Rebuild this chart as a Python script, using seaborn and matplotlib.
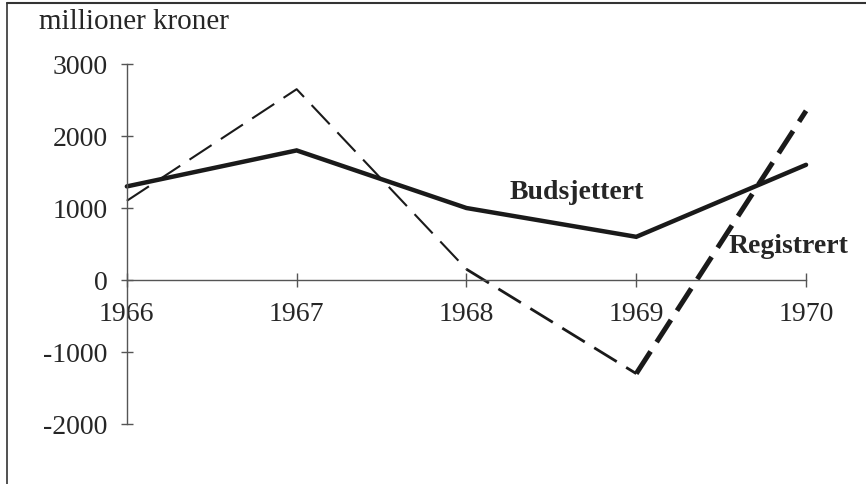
import pandas as pd
import numpy as np
import matplotlib.pyplot as plt
import seaborn as sns
from matplotlib.lines import Line2D

# data (millioner kroner)
years = [1966, 1967, 1968, 1969, 1970]
budsjettert = [1300, 1800, 1000, 600, 1600]
registrert = [1100, 2650, 150, -1300, 2350]
yticks = [-2000, -1000, 0, 1000, 2000, 3000]

df_b = pd.DataFrame({"år": years, "verdi": budsjettert})
df_r = pd.DataFrame({"år": years, "verdi": registrert})

sns.set_style("white")
plt.rcParams['font.family'] = ['Liberation Serif', 'DejaVu Serif']
plt.rcParams['lines.scale_dashes'] = False

fig = plt.figure(figsize=(8.66, 4.84), dpi=100)
ax = fig.add_axes([0, 0, 1, 1])
ax.patch.set_alpha(0)

# budsjettert: heltrukken tykk linje
sns.lineplot(data=df_b, x="år", y="verdi", ax=ax, color="#1a1a1a",
             linewidth=3.2, solid_joinstyle="miter")

# registrert: stiplet linje, blir tykkere mot slutten (som i originalen)
segmenter = [(0, 3, 1.5), (2, 4, 2.0), (3, 5, 3.6)]
for start, stopp, lw in segmenter:
    sns.lineplot(data=df_r.iloc[start:stopp], x="år", y="verdi", ax=ax,
                 color="#1a1a1a", linewidth=lw,
                 linestyle=(0, (19, 8)))

ax.set_xlim(1965.253, 1970.353)
ax.set_ylim(-2833, 3889)
ax.set_xlabel("")
ax.set_ylabel("")

for side in ["top", "right"]:
    ax.spines[side].set_visible(False)
ax.spines["left"].set_position(("data", 1966))
ax.spines["left"].set_bounds(-2000, 3000)
ax.spines["bottom"].set_position(("data", 0))
ax.spines["bottom"].set_bounds(1966, 1970)
for side in ["left", "bottom"]:
    ax.spines[side].set_color("#555555")
    ax.spines[side].set_linewidth(1.0)

ax.set_xticks(years)
ax.set_xticklabels([str(y) for y in years])
ax.set_yticks(yticks)
ax.set_yticklabels([str(v) for v in yticks])
ax.tick_params(axis="x", bottom=True, direction="inout", length=10, width=1,
               color="#555555", labelsize=20, pad=11)
ax.tick_params(axis="y", left=True, direction="inout", length=8, width=1,
               color="#555555", labelsize=20, pad=10)
ax.grid(False)

ax.text(0.045, 0.955, "millioner kroner", transform=ax.transAxes,
        fontsize=21, va="center", ha="left")
ax.text(1968.253, 1222, "Budsjettert", fontsize=20, fontweight="bold",
        va="center", ha="left")
ax.text(1969.541, 472, "Registrert", fontsize=20, fontweight="bold",
        va="center", ha="left")

# ramme fra skannet side
fig.add_artist(Line2D([0.008, 0.008], [0, 0.993], transform=fig.transFigure,
                      color="#333333", linewidth=1.2))
fig.add_artist(Line2D([0.008, 1.0], [0.993, 0.993], transform=fig.transFigure,
                      color="#333333", linewidth=1.5))

fig.savefig("out.png", dpi=100)
